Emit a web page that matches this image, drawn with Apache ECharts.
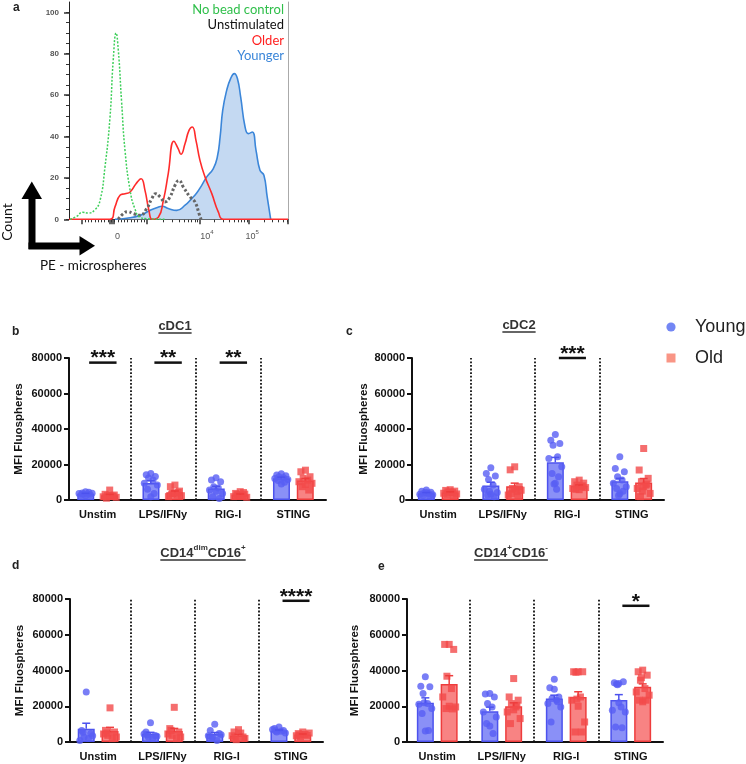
<!DOCTYPE html>
<html><head><meta charset="utf-8">
<script src="https://cdn.jsdelivr.net/npm/echarts@6/dist/echarts.min.js"></script>
<style>html,body{margin:0;padding:0;background:#fff;}#c{width:746px;height:764px;}</style>
</head><body><div id="c"></div>
<script>
// ---------------- DATA ----------------
// Panel a: flow histogram (x = display channel 0..100 on biexponential scale, y = count)
const noBead = [[0.5,0],[3.5,1.4],[6.2,3.4],[8.8,3],[11.9,4.7],[14.2,9.2],[16.4,25],[18.7,49],[20.2,77],[21.5,90],[22.5,82],[24,57],[25.6,33],[27.9,14],[30.1,5],[32.4,1],[35.5,0.3],[43.8,0]];
const unstimulated = [[22.5,0],[24.8,2.7],[26.8,3.7],[29.4,2.7],[32.4,1.9],[35.5,5.2],[37.8,10],[39.6,12.4],[41.6,10.8],[43.8,8.4],[46.1,10.8],[48.4,16.4],[50.2,18.8],[52.2,15.6],[55.3,10.8],[57.5,8.4],[59.4,2.7],[60.3,0]];
const older = [[0,0],[18.7,0],[21,6],[23.3,11.6],[25.6,12.4],[27.9,13.2],[30.6,17.2],[32.9,19.6],[34.7,14],[36.5,4.3],[38,0],[40.8,1],[43.1,9.2],[45.3,22],[47.9,37.7],[49.9,34],[51.1,31.4],[53,36.6],[54.8,43],[56.3,44.6],[58,38],[59.8,28.5],[62.1,20.5],[65.2,12.4],[68.2,3.5],[70.5,0],[100,0]];
const younger = [[21,0],[26.3,0.5],[32.4,1.9],[37,4.3],[40,5.6],[42.6,6.3],[45.3,5.2],[49.2,4.3],[53,6.8],[56,10],[58.3,12.7],[60.6,16.4],[62.9,20.5],[65.9,24.5],[67.7,30],[69,39.8],[70.2,52.7],[72,62.3],[73.8,68],[75.5,70.4],[76.9,68],[78.4,59],[80.4,44.6],[81.9,41.4],[83.7,42.2],[85.4,33.3],[87.2,23.7],[89,21.3],[90.5,10.8],[92.1,0]];
const histYLabels = [0, 20, 40, 60, 80, 100];
const histXLabelPos = [22.1, 63, 83.6];
const histXLabelText = ['0', '10{s|4}', '10{s|5}'];
const histMajorTicks = [5.8, 18.6, 19.5, 20.4, 35.5, 59.8, 82.2, 100];
const histLegend = ['No bead control', 'Unstimulated', 'Older', 'Younger'];

// Panels b-e
const categories = ['Unstim', 'LPS/IFNy', 'RIG-I', 'STING'];

const bYoungMean = [3500, 9600, 6500, 12300];
const bYoungSem  = [250, 1300, 1200, 600];
const bOldMean   = [2700, 4300, 3000, 11000];
const bOldSem    = [450, 800, 400, 1100];
const bYoungPts = [
  [2400, 2800, 3000, 3200, 3400, 3600, 3800, 4000, 4300, 4600],
  [15000, 14200, 13200, 12400, 11200, 9400, 8400, 6000, 3700, 1900],
  [12500, 11300, 10300, 7500, 6800, 5600, 3700, 1900, 900, 5000],
  [14800, 14100, 13600, 13100, 12600, 12100, 11600, 11000, 10000, 9000]];
const bOldPts = [
  [5600, 3200, 2800, 2500, 2200, 1800, 1500, 1000, 2000, 2600],
  [8400, 7500, 5000, 3700, 2800, 1900, 2400, 3300, 4200, 4000],
  [4700, 3700, 3300, 2800, 2400, 1900, 1500, 3000, 4200, 2100],
  [16800, 15900, 13100, 12200, 11200, 10300, 9400, 7500, 5600, 8800]];
const bSig = [{cat: 0, stars: '***', y: 77400}, {cat: 1, stars: '**', y: 77400}, {cat: 2, stars: '**', y: 77400}];

const cYoungMean = [3800, 8200, 21200, 10500];
const cYoungSem  = [400, 1800, 2800, 1700];
const cOldMean   = [4200, 7800, 8000, 9800];
const cOldSem    = [400, 1700, 500, 2300];
const cYoungPts = [
  [5600, 4900, 4400, 4000, 3600, 3300, 3000, 2600, 2200, 4200],
  [18200, 15000, 13500, 11500, 8500, 6000, 4200, 2800, 1900, 3200, 5000],
  [36900, 33700, 31900, 30900, 24400, 23400, 18700, 15000, 13100, 9400, 9000, 6000],
  [24400, 17800, 15900, 13100, 11200, 9400, 7500, 6500, 5000, 3500, 2500]];
const cOldPts = [
  [5800, 5400, 5000, 4600, 4200, 3800, 3400, 3000, 2600, 4400],
  [18700, 17000, 7500, 6500, 4700, 2800, 5500, 3500, 2000, 6000],
  [11200, 10300, 9500, 8400, 7500, 6500, 7000, 6000, 8000, 5800],
  [29000, 16900, 12200, 10300, 8400, 6500, 3700, 1900, 9000, 7500, 5000]];
const cSig = [{cat: 2, stars: '***', y: 80000}];

const dYoungMean = [7400, 4600, 4500, 6400];
const dYoungSem  = [3100, 800, 800, 300];
const dOldMean   = [6200, 6100, 3700, 4200];
const dOldSem    = [2000, 1500, 700, 300];
const dYoungPts = [
  [28000, 6500, 4700, 2800, 1900, 900, 3500, 5500],
  [10800, 5600, 3700, 2800, 1900, 4500, 3200, 4000],
  [9900, 6500, 4700, 2800, 900, 3500, 4000, 2000],
  [8400, 7500, 6500, 5600, 6000, 7000, 5000, 6200]];
const dOldPts = [
  [19100, 6500, 5600, 3700, 1900, 4500, 2800, 5000],
  [19400, 7500, 5600, 3700, 1900, 4500, 2800, 6500],
  [6900, 5600, 2800, 1300, 5000, 3500, 2000, 2500],
  [5600, 4700, 3700, 2800, 4200, 3500, 5000, 4000]];
const dSig = [{cat: 3, stars: '****', y: 79000}];

const eYoungMean = [21900, 17200, 24300, 23500];
const eYoungSem  = [2800, 2300, 1900, 3000];
const eOldMean   = [32400, 20000, 25200, 30900];
const eOldSem    = [4700, 1900, 2900, 1600];
const eYoungPts = [
  [36500, 31200, 30900, 27100, 21500, 21100, 18700, 15900, 6500, 6200, 22000],
  [27100, 26800, 25200, 21500, 19600, 16800, 14000, 10300, 4700, 9000],
  [35100, 30300, 25200, 24300, 23400, 21500, 19600, 11200, 22500, 29500],
  [32700, 33100, 33700, 32400, 19600, 17800, 16800, 8400, 8000, 22000, 32000]];
const eOldPts = [
  [54600, 54600, 51800, 36800, 29900, 25200, 19600, 18700, 18500, 20000],
  [35500, 25200, 23400, 21500, 19600, 16800, 13100, 10300, 20500, 18000],
  [39300, 39300, 39300, 39000, 25200, 23400, 11200, 5600, 5600, 20000, 24000],
  [40200, 39300, 37400, 34600, 29900, 28000, 26200, 23400, 23400, 22500, 36000]];
const eSig = [{cat: 3, stars: '*', y: 76200}];

// ---------------- STYLE / LAYOUT ----------------
const FONT = '"Liberation Sans", Arial, sans-serif';
const GILL = 'Lato, "Open Sans", sans-serif';
const Y_FILL = '#8a90f7', Y_EDGE = '#4c52ee', Y_DOT = '#585ef4';
const O_FILL = '#f88383', O_EDGE = '#ee3c3c', O_DOT = '#f24a4a';
const OFF = 0.185;
const JIT = [0, -0.07, 0.07, -0.035, 0.035, -0.1, 0.1, -0.05, 0.05, 0.0, -0.02, 0.02];

const panelGeom = [
  {left: 65,  top: 358, width: 261, height: 142, yOff: -4},
  {left: 406, top: 358, width: 258, height: 142, yOff: -6},
  {left: 66,  top: 599, width: 257, height: 143, yOff: -4},
  {left: 405, top: 599, width: 258, height: 143, yOff: -2}
];
const panelData = [
  {ym: bYoungMean, ys: bYoungSem, om: bOldMean, os: bOldSem, yp: bYoungPts, op: bOldPts, sig: bSig},
  {ym: cYoungMean, ys: cYoungSem, om: cOldMean, os: cOldSem, yp: cYoungPts, op: cOldPts, sig: cSig},
  {ym: dYoungMean, ys: dYoungSem, om: dOldMean, os: dOldSem, yp: dYoungPts, op: dOldPts, sig: dSig},
  {ym: eYoungMean, ys: eYoungSem, om: eOldMean, os: eOldSem, yp: eYoungPts, op: eOldPts, sig: eSig}
];

const histMinorTicks = [];
for (let u = 7.3; u < 35; u += 1.5) histMinorTicks.push(+u.toFixed(2));
[[35.5, 24.3], [59.8, 22.4], [82.2, 22.4]].forEach(([s, w]) => {
  for (let k = 2; k <= 9; k++) { const v = s + Math.log10(k) * w; if (v < 100) histMinorTicks.push(+v.toFixed(2)); }
});
const histYMinor = [];
for (let v = 0; v <= 100; v += 5) histYMinor.push(v);

const chart = echarts.init(document.getElementById('c'), null, {renderer: 'canvas'});

const grid = [{left: 69, top: 2, width: 219, height: 217.3}];
panelGeom.forEach(g => grid.push({left: g.left, top: g.top, width: g.width, height: g.height}));

const xAxis = [
  {gridIndex: 0, type: 'value', min: 0, max: 100, position: 'bottom',
   axisLine: {lineStyle: {color: '#444', width: 1}},
   axisTick: {customValues: histMajorTicks, length: 5, lineStyle: {color: '#333', width: 1.5}},
   axisLabel: {customValues: histXLabelPos, margin: 10, color: '#555', fontSize: 9, fontFamily: FONT, lineHeight: 14,
     formatter: v => { let bi = 0; histXLabelPos.forEach((p, i) => { if (Math.abs(p - v) < Math.abs(histXLabelPos[bi] - v)) bi = i; }); return histXLabelText[bi]; },
     rich: {s: {fontSize: 6, color: '#555', verticalAlign: 'top', lineHeight: 8}}},
   splitLine: {show: false}},
  {gridIndex: 0, type: 'value', min: 0, max: 100, position: 'bottom',
   axisLine: {show: false}, axisLabel: {show: false}, splitLine: {show: false},
   axisTick: {customValues: histMinorTicks, length: 3, lineStyle: {color: '#333', width: 1}}}
];
const yAxis = [
  {gridIndex: 0, type: 'value', min: 0, max: 105, position: 'left',
   axisLine: {show: true, lineStyle: {color: '#222', width: 1}},
   axisTick: {show: true, customValues: histYLabels, length: 5, lineStyle: {color: '#333', width: 1.5}},
   axisLabel: {customValues: histYLabels, margin: 10, color: '#555', fontSize: 8, fontWeight: 'bold', fontFamily: FONT},
   splitLine: {show: false}},
  {gridIndex: 0, type: 'value', min: 0, max: 105, position: 'left',
   axisLine: {show: false}, axisLabel: {show: false}, splitLine: {show: false},
   axisTick: {show: true, customValues: histYMinor, length: 3, lineStyle: {color: '#333', width: 1}}},
  {gridIndex: 0, type: 'value', min: 0, max: 105, position: 'right',
   axisLine: {show: true, lineStyle: {color: '#aaa', width: 1}}, axisTick: {show: false}, axisLabel: {show: false}, splitLine: {show: false}}
];

const series = [
  {type: 'line', name: 'Younger', xAxisIndex: 0, yAxisIndex: 0, data: younger, smooth: 0.5, symbol: 'none',
   lineStyle: {color: '#3b86d9', width: 1.6}, areaStyle: {color: '#c4d9f2', opacity: 1}, z: 2},
  {type: 'line', name: 'Older', xAxisIndex: 0, yAxisIndex: 0, data: older, smooth: 0.5, symbol: 'none',
   lineStyle: {color: '#ff2b2b', width: 1.6}, z: 3},
  {type: 'line', name: 'Unstimulated', xAxisIndex: 0, yAxisIndex: 0, data: unstimulated, smooth: 0.5, symbol: 'none',
   lineStyle: {color: '#666', width: 3, type: [2.5, 2.2]}, z: 4},
  {type: 'line', name: 'No bead control', xAxisIndex: 0, yAxisIndex: 0, data: noBead, smooth: 0.5, symbol: 'none',
   lineStyle: {color: '#3ecf5a', width: 1.5, type: [2, 1.6]}, z: 5}
];

function errRender(params, api) {
  const x = api.value(0), m = api.value(1), s = api.value(2);
  const p0 = api.coord([x, m]), p1 = api.coord([x, m + s]);
  const color = api.visual('color');
  return {type: 'group', children: [
    {type: 'line', shape: {x1: p0[0], y1: p0[1], x2: p1[0], y2: p1[1]}, style: {stroke: color, lineWidth: 1.5}},
    {type: 'line', shape: {x1: p1[0] - 4, y1: p1[1], x2: p1[0] + 4, y2: p1[1]}, style: {stroke: color, lineWidth: 1.5}}
  ]};
}
function makeSig(sig) {
  return function (params, api) {
    const a = api.coord([api.value(0), api.value(2)]), b = api.coord([api.value(1), api.value(2)]);
    return {type: 'group', children: [
      {type: 'line', shape: {x1: a[0], y1: a[1], x2: b[0], y2: b[1]}, style: {stroke: '#111', lineWidth: 2.5}},
      {type: 'text', style: {text: sig[params.dataIndex].stars, x: (a[0] + b[0]) / 2, y: a[1] - 4, align: 'center', verticalAlign: 'middle',
        font: 'bold 21px ' + FONT, fill: '#111'}}
    ]};
  };
}

panelData.forEach((d, p) => {
  const g = panelGeom[p];
  const gi = p + 1, xc = 2 + 2 * p, xv = 3 + 2 * p, yi = 3 + p;
  xAxis.push({gridIndex: gi, type: 'category', data: categories, position: 'bottom',
    axisLine: {lineStyle: {color: '#111', width: 2}},
    axisTick: {alignWithLabel: true, length: 5, lineStyle: {color: '#111', width: 2}},
    axisLabel: {color: '#111', fontWeight: 'bold', fontSize: 11, fontFamily: FONT, margin: 9}});
  xAxis.push({gridIndex: gi, type: 'value', min: 0, max: 4, show: false, position: 'top'});
  yAxis.push({gridIndex: gi, type: 'value', min: 0, max: 80000, interval: 20000, offset: g.yOff,
    name: 'MFI Fluospheres', nameLocation: 'middle', nameGap: 48 + g.yOff,
    nameTextStyle: {fontWeight: 'bold', fontSize: 11.5, fontFamily: FONT, color: '#111'},
    axisLine: {show: true, lineStyle: {color: '#111', width: 2}},
    axisTick: {show: true, length: 5, lineStyle: {color: '#111', width: 2}},
    axisLabel: {color: '#111', fontWeight: 'bold', fontSize: 11, fontFamily: FONT, margin: 7, formatter: v => String(v)},
    splitLine: {show: false}});

  series.push({type: 'bar', name: 'Young', xAxisIndex: xc, yAxisIndex: yi, data: d.ym, barWidth: 17, barGap: '40%',
    itemStyle: {color: Y_FILL, borderColor: Y_EDGE, borderWidth: 1.5}, z: 2});
  series.push({type: 'bar', name: 'Old', xAxisIndex: xc, yAxisIndex: yi, data: d.om, barWidth: 17, barGap: '40%',
    itemStyle: {color: O_FILL, borderColor: O_EDGE, borderWidth: 1.5}, z: 2});

  const ptsY = [], ptsO = [];
  d.yp.forEach((arr, i) => arr.forEach((v, j) => ptsY.push([i + 0.5 - OFF + JIT[j % JIT.length], v])));
  d.op.forEach((arr, i) => arr.forEach((v, j) => ptsO.push([i + 0.5 + OFF + JIT[j % JIT.length], v])));
  series.push({type: 'scatter', name: 'Young', xAxisIndex: xv, yAxisIndex: yi, data: ptsY, symbol: 'circle', symbolSize: 7,
    itemStyle: {color: Y_DOT}, z: 3,
    markLine: {silent: true, symbol: ['none', 'none'], label: {show: false}, animation: false,
      lineStyle: {type: [1.8, 1.8], width: 1.8, color: '#111'}, data: [{xAxis: 1}, {xAxis: 2}, {xAxis: 3}]}});
  series.push({type: 'scatter', name: 'Old', xAxisIndex: xv, yAxisIndex: yi, data: ptsO, symbol: 'rect', symbolSize: 7,
    itemStyle: {color: O_DOT}, z: 3});
  series.push({type: 'custom', xAxisIndex: xv, yAxisIndex: yi, renderItem: errRender, itemStyle: {color: Y_EDGE}, z: 4,
    data: d.ym.map((m, i) => [i + 0.5 - OFF, m, d.ys[i]])});
  series.push({type: 'custom', xAxisIndex: xv, yAxisIndex: yi, renderItem: errRender, itemStyle: {color: O_EDGE}, z: 4,
    data: d.om.map((m, i) => [i + 0.5 + OFF, m, d.os[i]])});
  series.push({type: 'custom', xAxisIndex: xv, yAxisIndex: yi, renderItem: makeSig(d.sig), clip: false, z: 5,
    data: d.sig.map(s => [s.cat + 0.37, s.cat + 0.79, s.y])});
});

const mctx = document.createElement('canvas').getContext('2d');
function tw(t, font) { mctx.font = font; return mctx.measureText(t).width; }
const TF = 'bold 13px ' + FONT, SF = 'bold 8px ' + FONT;
const titles = [
  {parts: [['cDC1', 0]], x: 175, y: 326},
  {parts: [['cDC2', 0]], x: 519, y: 325},
  {parts: [['CD14', 0], ['dim', 1], ['CD16', 0], ['+', 1]], x: 203, y: 553},
  {parts: [['CD14', 0], ['+', 1], ['CD16', 0], ['-', 1]], x: 511, y: 553}
];
const graphic = [];
titles.forEach(t => {
  const txt = t.parts.map(([s, sup]) => sup ? '{s|' + s + '}' : s).join('');
  const w = t.parts.reduce((a, [s, sup]) => a + tw(s, sup ? SF : TF), 0);
  graphic.push({type: 'text', style: {text: txt, x: t.x, y: t.y, align: 'center', verticalAlign: 'middle', font: TF, fill: '#333', lineHeight: 18,
    rich: {s: {fontSize: 8, fontWeight: 'bold', fontFamily: FONT, fill: '#333', verticalAlign: 'top', lineHeight: 9}}}});
  graphic.push({type: 'line', shape: {x1: t.x - w / 2, y1: t.y + 7, x2: t.x + w / 2, y2: t.y + 7}, style: {stroke: '#333', lineWidth: 1.5}});
});
[['a', 13, 8], ['b', 12, 332], ['c', 346, 332], ['d', 12, 566], ['e', 378, 567]].forEach(([l, x, y]) =>
  graphic.push({type: 'text', style: {text: l, x, y, align: 'left', verticalAlign: 'middle', font: 'bold 12px ' + FONT, fill: '#222'}}));
const histLegendColors = ['#2fbf4a', '#111', '#ff2020', '#3b86d9'];
histLegend.forEach((s, i) => graphic.push({type: 'text', style: {text: s, x: 284, y: 9.5 + i * 15.6, align: 'right', verticalAlign: 'middle',
  font: '13px ' + GILL, fill: histLegendColors[i]}}));
graphic.push({type: 'rect', shape: {x: 28.5, y: 196, width: 7, height: 53}, style: {fill: '#000'}});
graphic.push({type: 'polygon', shape: {points: [[21.5, 199], [42, 199], [31.8, 181.5]]}, style: {fill: '#000'}});
graphic.push({type: 'rect', shape: {x: 28.5, y: 242.5, width: 53, height: 7}, style: {fill: '#000'}});
graphic.push({type: 'polygon', shape: {points: [[79.5, 236], [79.5, 255.5], [95, 245.8]]}, style: {fill: '#000'}});
graphic.push({type: 'text', rotation: Math.PI / 2, x: 7.5, y: 222, style: {text: 'Count', x: 0, y: 0, align: 'center', verticalAlign: 'middle', font: '14px ' + GILL, fill: '#111'}});
graphic.push({type: 'text', style: {text: 'PE - microspheres', x: 40, y: 265.5, align: 'left', verticalAlign: 'middle', font: '13.5px ' + GILL, fill: '#111'}});
graphic.push({type: 'circle', shape: {cx: 671, cy: 327, r: 4.6}, style: {fill: '#7386f4'}});
graphic.push({type: 'rect', shape: {x: 666.5, y: 353.5, width: 9, height: 9}, style: {fill: '#f99585'}});
graphic.push({type: 'text', style: {text: 'Young', x: 695, y: 327, align: 'left', verticalAlign: 'middle', font: '18px ' + FONT, fill: '#222'}});
graphic.push({type: 'text', style: {text: 'Old', x: 695, y: 358, align: 'left', verticalAlign: 'middle', font: '18px ' + FONT, fill: '#222'}});

chart.setOption({animation: false, backgroundColor: '#fff', grid, xAxis, yAxis, series, graphic});
</script></body></html>
